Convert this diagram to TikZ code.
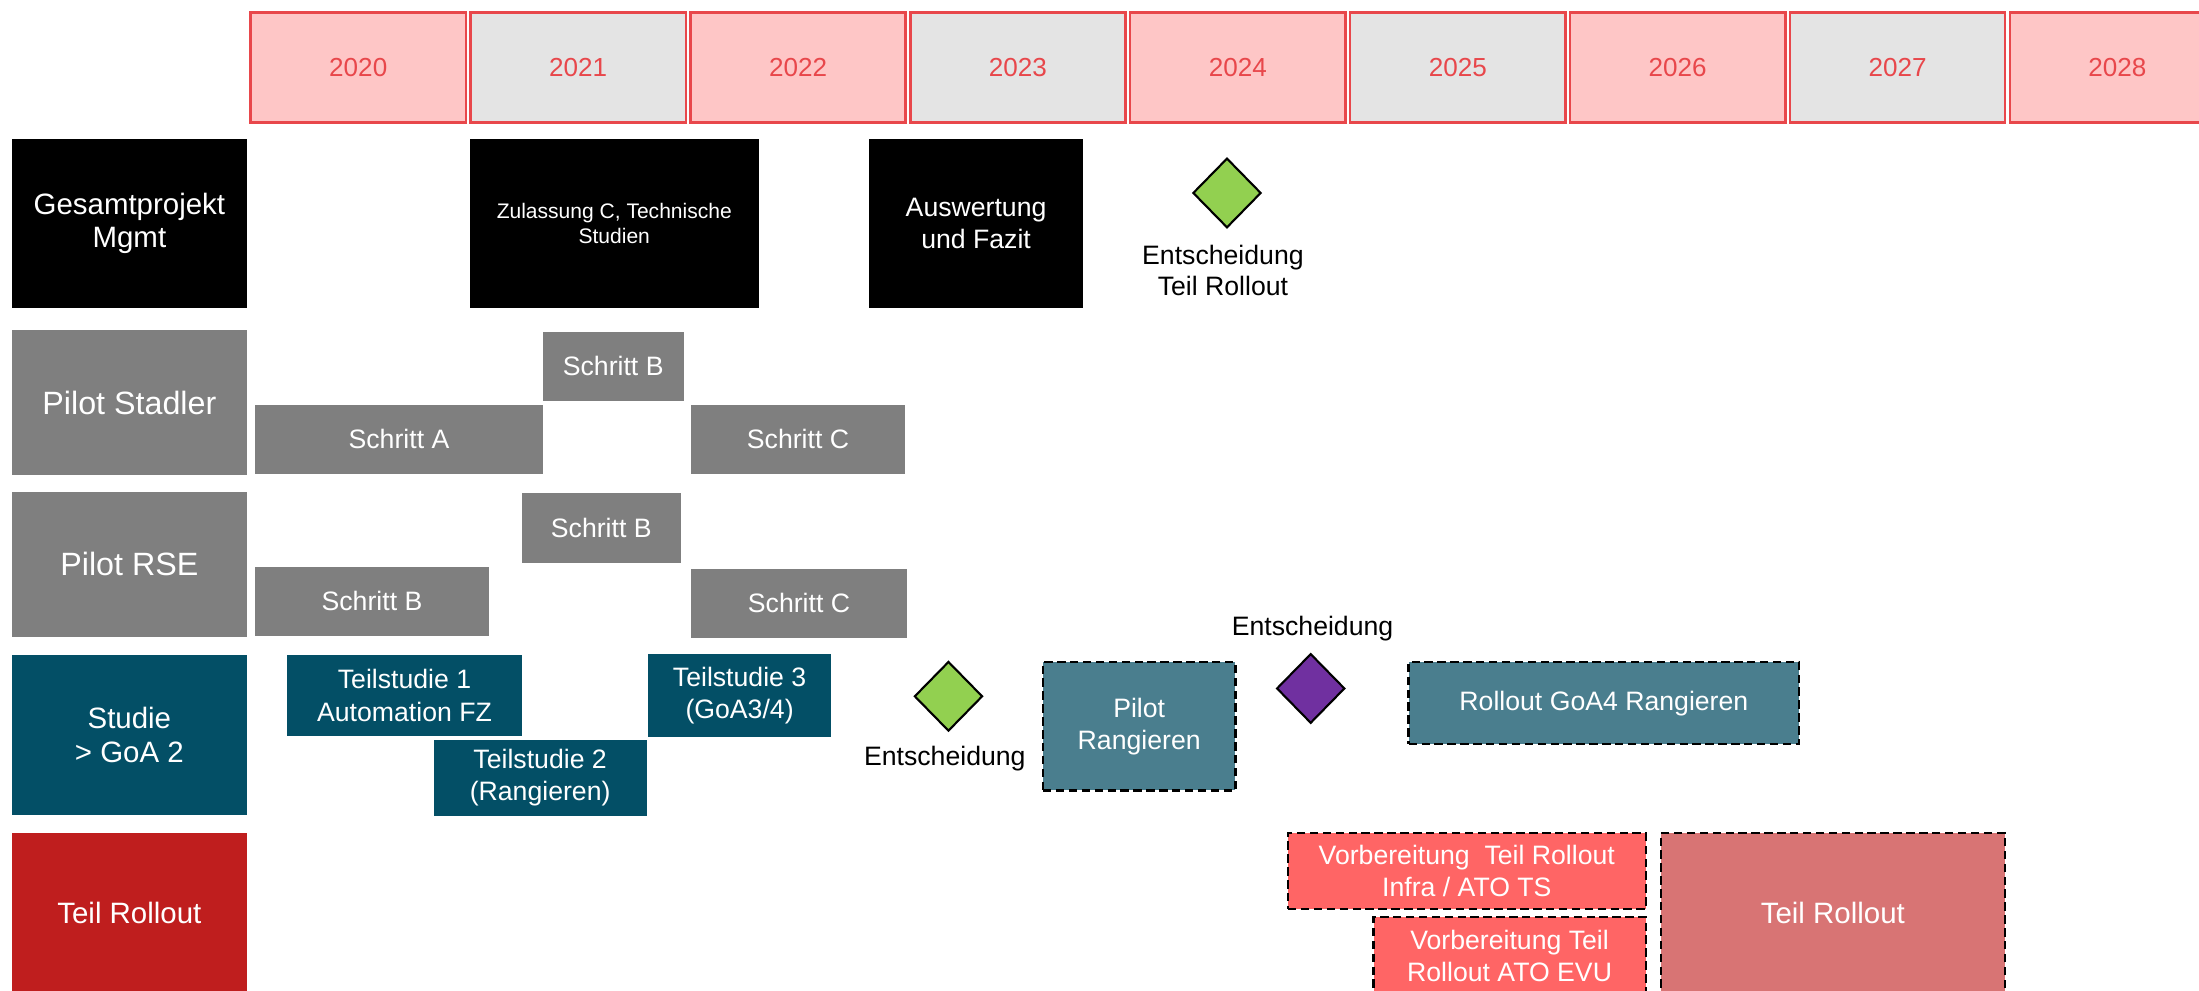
\documentclass[tikz,border=0pt]{standalone}
\usepackage{fontspec}
\setmainfont{Liberation Sans}
\usetikzlibrary{shapes.geometric}

\definecolor{yearpink}{HTML}{FEC6C6}
\definecolor{yeargray}{HTML}{E4E4E4}
\definecolor{yearred}{HTML}{E8474B}
\definecolor{pilotgray}{HTML}{7F7F7F}
\definecolor{studyteal}{HTML}{034F66}
\definecolor{planteal}{HTML}{4A7E8E}
\definecolor{rolloutred}{HTML}{BF1E1E}
\definecolor{prepred}{HTML}{FF6565}
\definecolor{rolloutrose}{HTML}{D87474}
\definecolor{decgreen}{HTML}{92D050}
\definecolor{decpurple}{HTML}{7030A0}

\newcommand\fs[2]{\fontsize{#1}{#2}\selectfont}

% box given by its corners (x1,y1) and (x2,y2), y pointing down
\newcommand\taskbox[7]{%
  \node[#2, minimum width={(#5-#3)*0.5pt}, minimum height={(#6-#4)*0.5pt}]
    (#1) at ({(#3+#5)/2},{(#4+#6)/2}) {#7};}

\tikzset{
  bar/.style={inner sep=0pt, outer sep=0pt, align=center, text=white, font=\fs{9.5}{11.5}},
  yearpinkbox/.style={bar, fill=yearpink, draw=yearred, line width=0.9pt, text=yearred, font=\fs{9.3}{11}},
  yeargraybox/.style={yearpinkbox, fill=yeargray},
  lane/.style={bar, font=\fs{10.5}{12}},
  mgmt/.style={bar, fill=black},
  pilot/.style={bar, fill=pilotgray},
  study/.style={bar, fill=studyteal},
  planned/.style={draw=black, line width=0.8pt, dash pattern=on 3pt off 1.6pt},
  plannedteal/.style={bar, planned, fill=planteal},
  prep/.style={bar, planned, fill=prepred},
  rollout/.style={bar, planned, fill=rolloutrose, font=\fs{10.5}{12}},
  decision/.style={diamond, draw=black, line width=0.75pt, inner sep=0pt, outer sep=0pt,
    minimum width=24pt, minimum height=24.5pt},
  caption/.style={inner sep=0pt, align=center, text=black, font=\fs{9.5}{11}},
}

\begin{document}
\begin{tikzpicture}[x=0.5pt,y=-0.5pt]
\useasboundingbox (0,0) rectangle (1568,706);
\clip (0,0) rectangle (1568,706);

% year header
\taskbox{y2020}{yearpinkbox}{178.7}{8.8}{332.2}{87.5}{2020}
\taskbox{y2021}{yeargraybox}{335.5}{8.8}{489.0}{87.5}{2021}
\taskbox{y2022}{yearpinkbox}{492.3}{8.8}{645.8}{87.5}{2022}
\taskbox{y2023}{yeargraybox}{649.1}{8.8}{802.6}{87.5}{2023}
\taskbox{y2024}{yearpinkbox}{805.9}{8.8}{959.4}{87.5}{2024}
\taskbox{y2025}{yeargraybox}{962.7}{8.8}{1116.2}{87.5}{2025}
\taskbox{y2026}{yearpinkbox}{1119.5}{8.8}{1273.0}{87.5}{2026}
\taskbox{y2027}{yeargraybox}{1276.3}{8.8}{1429.8}{87.5}{2027}
\taskbox{y2028}{yearpinkbox}{1433.1}{8.8}{1586.6}{87.5}{2028}

% lane: Gesamtprojekt Mgmt
\taskbox{lmgmt}{mgmt,lane}{8.5}{99.1}{176}{219.4}{Gesamtprojekt\\Mgmt}
\taskbox{zul}{mgmt,font=\fs{7.5}{9}}{335}{99.1}{541}{219.4}{Zulassung C, Technische\\Studien}
\taskbox{ausw}{mgmt}{619.5}{99.1}{772.5}{219.4}{Auswertung\\und Fazit}
\node[decision, fill=decgreen] (dec1) at (874.9,137.6) {};
\node[caption] (dec1txt) at (872,193) {Entscheidung\\Teil Rollout};

% lane: Pilot Stadler
\taskbox{lstadler}{pilot,lane,font=\fs{11.5}{13}}{8.5}{235.3}{176}{338.7}{Pilot Stadler}
\taskbox{stB}{pilot}{387}{236.8}{487.5}{285.7}{Schritt B}
\taskbox{stA}{pilot}{181.5}{288.8}{387.5}{337.8}{Schritt A}
\taskbox{stC}{pilot}{492.5}{288.8}{645.5}{337.8}{Schritt C}

% lane: Pilot RSE
\taskbox{lrse}{pilot,lane,font=\fs{11.5}{13}}{8.5}{350.9}{176}{454}{Pilot RSE}
\taskbox{rseBm}{pilot}{372}{351.6}{485.5}{401.2}{Schritt B}
\taskbox{rseB}{pilot}{181.5}{404.3}{349}{453.3}{Schritt B}
\taskbox{rseC}{pilot}{493}{405.8}{646.5}{454.7}{Schritt C}

% lane: Studie > GoA 2
\taskbox{lstudy}{study,lane}{8.3}{467.1}{176.2}{580.9}{Studie\\> GoA 2}
\taskbox{ts1}{study}{204.5}{467.1}{372.4}{524.6}{Teilstudie 1\\Automation FZ}
\taskbox{ts3}{study}{462.3}{466.4}{592.4}{525.3}{Teilstudie 3\\(GoA3/4)}
\taskbox{ts2}{study}{309.2}{527.7}{461.1}{581.7}{Teilstudie 2\\(Rangieren)}
\node[decision, fill=decgreen] (dec2) at (676.3,496.5) {};
\node[caption] (dec2txt) at (673.7,540.8) {Entscheidung};
\taskbox{pilotr}{plannedteal}{743.7}{472.3}{880.9}{563.6}{Pilot\\Rangieren}
\node[decision, fill=decpurple] (dec3) at (934.6,490.9) {};
\node[caption] (dec3txt) at (935.9,448) {Entscheidung};
\taskbox{goa4}{plannedteal}{1004.4}{472.2}{1282.9}{530.5}{Rollout GoA4 Rangieren}

% lane: Teil Rollout
\taskbox{lrollout}{lane,fill=rolloutred}{8.3}{594}{176.2}{708}{Teil Rollout}
\taskbox{prep1}{prep}{918.4}{594}{1173.4}{648.4}{Vorbereitung\ \ Teil Rollout\\Infra / ATO TS}
\taskbox{prep2}{prep}{979.4}{653.9}{1173.4}{709}{Vorbereitung Teil\\Rollout ATO EVU}
\taskbox{rollout}{rollout}{1184.4}{594}{1429.4}{708}{Teil Rollout}
\end{tikzpicture}
\end{document}
